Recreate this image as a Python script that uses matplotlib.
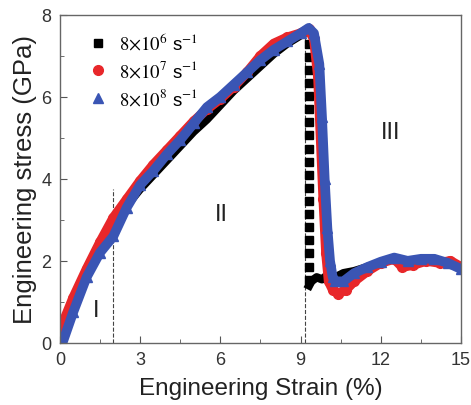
import numpy as np
import matplotlib.pyplot as plt

plt.rcParams['font.family'] = ['Liberation Sans', 'DejaVu Sans']
plt.rcParams['mathtext.fontset'] = 'stix'

# strain (%) / stress (GPa)
black_x = [0.0, 0.5, 1.0, 1.5, 2.0, 2.5, 3.0, 3.5, 4.0, 4.5, 5.0, 5.5, 6.0, 6.5,
           7.0, 7.5, 8.0, 8.5, 9.0, 9.3]
black_y = [0.2, 0.9, 1.7, 2.3, 2.8, 3.35, 3.75, 4.1, 4.45, 4.8, 5.15, 5.45, 5.8,
           6.15, 6.45, 6.75, 7.05, 7.3, 7.5, 7.62]
black_drop_x = [9.32] * 19
black_drop_y = [7.3, 6.98, 6.66, 6.34, 6.02, 5.7, 5.38, 5.06, 4.74, 4.42, 4.1,
                3.78, 3.46, 3.14, 2.82, 2.5, 2.18, 1.86, 1.54]
black_tail_x = [9.32, 9.4, 9.6, 9.8, 10.0, 10.3, 10.6, 11.0, 11.5, 12.0, 12.5,
                13.0, 13.5, 14.0, 14.5, 15.0]
black_tail_y = [1.4, 1.5, 1.6, 1.55, 1.65, 1.6, 1.7, 1.75, 1.85, 1.95, 2.05,
                2.0, 2.0, 2.0, 1.95, 1.85]

red_x = [0.0, 0.5, 1.0, 1.5, 2.0, 2.5, 3.0, 3.5, 4.0, 4.5, 5.0, 5.5, 6.0, 6.5,
         7.0, 7.5, 8.0, 8.5, 9.0, 9.3, 9.5, 9.65, 9.75, 9.85, 9.95, 10.05, 10.2,
         10.4, 10.7, 11.0, 11.5, 12.0, 12.5, 12.8, 13.2, 13.7, 14.2, 14.6, 15.0]
red_y = [0.3, 1.1, 1.8, 2.45, 3.05, 3.5, 3.95, 4.35, 4.7, 5.05, 5.4, 5.7, 5.95,
         6.25, 6.6, 7.0, 7.3, 7.45, 7.55, 7.65, 7.4, 6.5, 5.0, 3.5, 2.2, 1.5,
         1.3, 1.2, 1.3, 1.5, 1.75, 1.95, 2.05, 1.85, 1.9, 2.0, 1.95, 2.0, 1.85]

blue_x = [0.1, 0.5, 1.0, 1.5, 2.0, 2.5, 3.0, 3.5, 4.0, 4.5, 5.0, 5.5, 6.0, 6.5,
          7.0, 7.5, 8.0, 8.5, 9.0, 9.3, 9.5, 9.7, 9.8, 9.9, 10.0, 10.1, 10.2,
          10.3, 10.6, 11.0, 11.5, 12.0, 12.5, 13.0, 13.5, 14.0, 14.5, 15.0]
blue_y = [0.0, 0.75, 1.6, 2.2, 2.6, 3.3, 3.85, 4.2, 4.6, 4.95, 5.35, 5.75, 6.0,
          6.3, 6.6, 6.9, 7.15, 7.35, 7.55, 7.68, 7.55, 6.8, 5.5, 4.0, 2.8, 2.0,
          1.6, 1.5, 1.5, 1.7, 1.85, 1.98, 2.08, 2.0, 2.05, 2.05, 1.95, 1.8]

labels = [r'$8{\times}10^{6}$ s$^{-1}$', r'$8{\times}10^{7}$ s$^{-1}$',
          r'$8{\times}10^{8}$ s$^{-1}$']

fig = plt.figure(figsize=(4.71, 4.06), dpi=100)
ax = fig.add_axes([0.127, 0.153, 0.852, 0.808])

# dashed region boundaries
ax.plot([2.0, 2.0], [0, 3.75], ls='--', color='#444444', lw=0.8)
ax.plot([9.17, 9.17], [0, 7.6], ls='--', color='#444444', lw=0.8)

# black series
ax.plot(black_x, black_y, '-', color='black', lw=6, solid_capstyle='butt')
ax.plot(black_tail_x, black_tail_y, '-', color='black', lw=6)
ax.plot(black_drop_x, black_drop_y, 's', color='black', ms=5.5, ls='none')
ax.plot([], [], 's', color='black', ms=6, label=labels[0])

# red series
ax.plot(red_x, red_y, '-', color='#e8272a', lw=7)
ax.plot(red_x, red_y, 'o', color='#e8272a', ms=7, ls='none', label=labels[1])

# blue series
ax.plot(blue_x, blue_y, '-', color='#3a55b4', lw=7)
ax.plot(blue_x, blue_y, '^', color='#3a55b4', ms=7, ls='none', label=labels[2])

ax.text(1.35, 0.8, 'I', fontsize=17, ha='center', va='center', color='#222222')
ax.text(6.05, 3.15, 'II', fontsize=17, ha='center', va='center', color='#222222')
ax.text(12.35, 5.15, 'III', fontsize=17, ha='center', va='center', color='#222222')

ax.set_xlim(0, 15)
ax.set_ylim(0, 8)
ax.set_xticks([0, 3, 6, 9, 12, 15])
ax.set_xticks(np.arange(1.5, 15, 3), minor=True)
ax.set_yticks([0, 2, 4, 6, 8])
ax.set_yticks([1, 3, 5, 7], minor=True)
ax.tick_params(which='both', direction='in', top=False, right=False,
               colors='#555555', labelcolor='#333333', labelsize=13, pad=6)
ax.tick_params(which='major', length=5)
ax.tick_params(which='minor', length=3)
for s in ax.spines.values():
    s.set_color('#666666')
    s.set_linewidth(1.0)

ax.set_xlabel('Engineering Strain (%)', fontsize=17.5, color='#222222', labelpad=6)
ax.set_ylabel('Engineering stress (GPa)', fontsize=18.5, color='#222222', labelpad=3)

ax.legend(loc='upper left', frameon=False, fontsize=13.5, handlelength=1.0,
          handletextpad=0.6, labelspacing=0.35, bbox_to_anchor=(0.03, 1.0))

fig.savefig('out.png', dpi=100)
